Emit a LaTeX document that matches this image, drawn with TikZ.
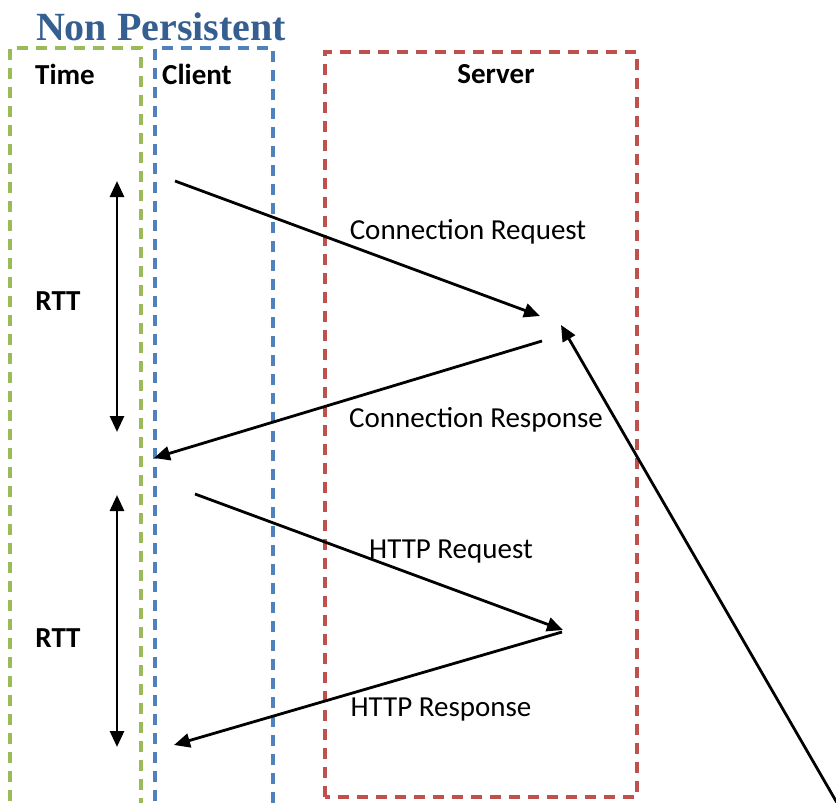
\documentclass[tikz,border=0pt]{standalone}
\usepackage{fontspec}
\setmainfont{Carlito}
\newfontfamily\titlefont{Liberation Serif}
\usetikzlibrary{arrows.meta}
\definecolor{tgreen}{HTML}{9BBB59}
\definecolor{tblue}{HTML}{4F81BD}
\definecolor{tred}{HTML}{C0504D}
\definecolor{ttitle}{HTML}{365F91}
\tikzset{
  lane/.style={line width=3.2pt, dash pattern=on 11pt off 8pt},
  msg/.style={line width=2.8pt, -{Triangle[length=16pt,width=14pt]}},
  rtt/.style={line width=2.8pt, {Triangle[length=16pt,width=14pt]}-{Triangle[length=16pt,width=14pt]}},
  head/.style={font=\fontsize{29}{34}\selectfont\bfseries, inner sep=0pt},
  lbl/.style={font=\fontsize{29}{34}\selectfont, inner sep=0pt},
}
\begin{document}
\begin{tikzpicture}[x=1pt,y=-1pt]
\useasboundingbox (0,0) rectangle (836,803);
% lanes
\draw[lane, tgreen] (10,820) -- (10,48) -- (141,48) -- (141,820);
\draw[lane, tblue] (155,820) -- (155,48) -- (273,48) -- (273,820);
\draw[lane, tred] (325,797) rectangle (637,52);
% title and headers
\node[inner sep=0pt, text=ttitle, font=\titlefont\fontsize{40}{46}\selectfont\bfseries] (title) at (161,27) {Non Persistent};
\node[head] (time) at (65,74) {Time};
\node[head] (client) at (197,74) {Client};
\node[head] (server) at (496,74) {Server};
\node[head] (rtt1) at (58,301) {RTT};
\node[head] (rtt2) at (58,638) {RTT};
% endpoints
\coordinate (r1a) at (117,181);
\coordinate (r1b) at (117,432);
\coordinate (r2a) at (117,495);
\coordinate (r2b) at (117,747);
\coordinate (c1) at (175,181);
\coordinate (s1) at (540,316);
\coordinate (s2) at (542,341);
\coordinate (c2) at (154,458);
\coordinate (c3) at (195,494);
\coordinate (s3) at (563,630);
\coordinate (s4) at (562,632);
\coordinate (c4) at (174,745);
\coordinate (far) at (840,808);
\coordinate (s5) at (561,325);
% arrows
\draw[rtt] (r1a) -- (r1b);
\draw[rtt] (r2a) -- (r2b);
\draw[msg] (c1) -- (s1);
\draw[msg] (s2) -- (c2);
\draw[msg] (c3) -- (s3);
\draw[msg] (s4) -- (c4);
\draw[msg] (far) -- (s5);
% labels
\node[lbl] (l1) at (468,232) {Connection Request};
\node[lbl] (l2) at (476,420) {Connection Response};
\node[lbl] (l3) at (451,552) {HTTP Request};
\node[lbl] (l4) at (441,710) {HTTP Response};
\end{tikzpicture}
\end{document}
